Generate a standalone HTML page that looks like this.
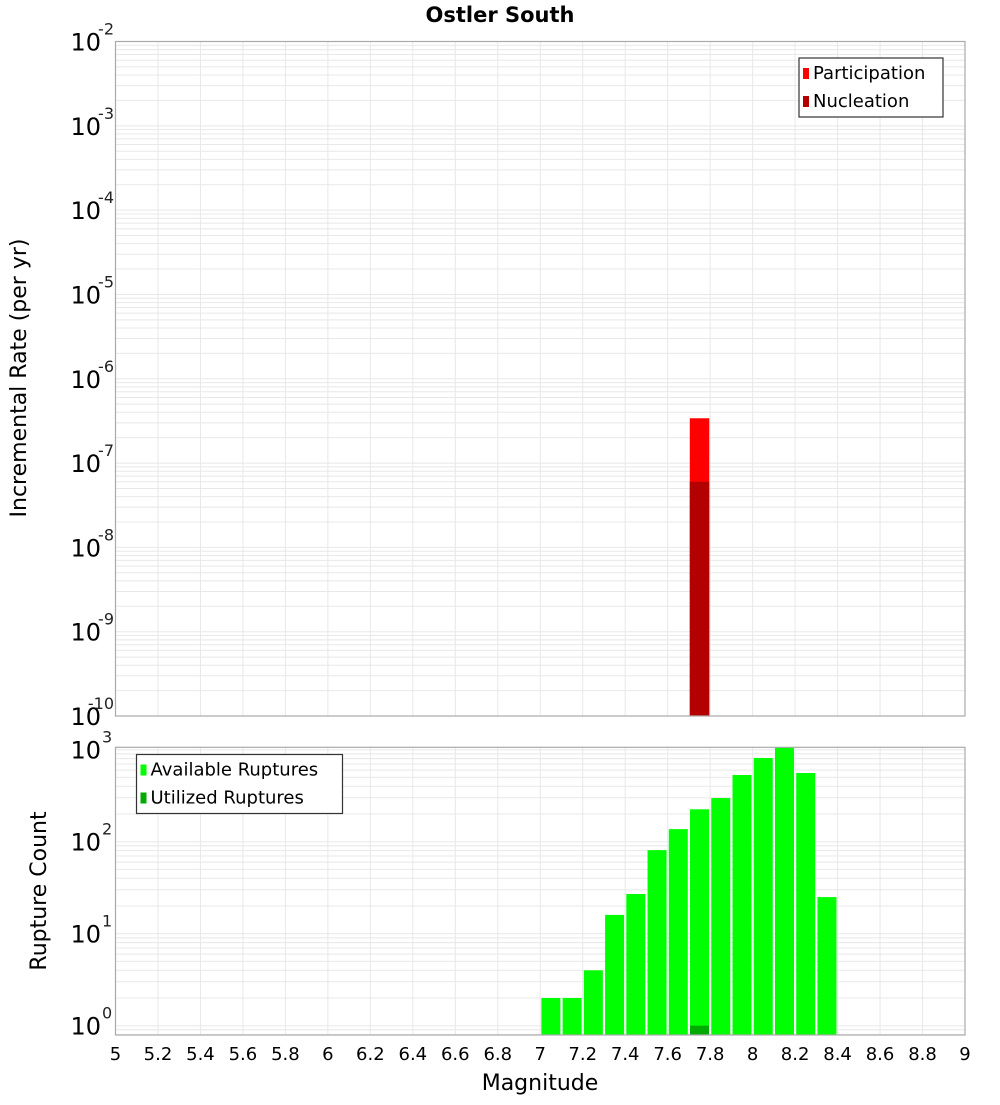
<!DOCTYPE html>
<html><head><meta charset="utf-8"><style>
body{margin:0;background:#fff;width:1000px;height:1100px;overflow:hidden}
svg{font-family:"DejaVu Sans","Liberation Sans",sans-serif}
</style></head><body>
<svg id="chart" width="1000" height="1100" xmlns="http://www.w3.org/2000/svg">
<text x="500" y="22" text-anchor="middle" font-size="21" font-weight="bold">Ostler South</text>
<text transform="translate(26,378) rotate(-90)" text-anchor="middle" font-size="22">Incremental Rate (per yr)</text>
<text transform="translate(46,891) rotate(-90)" text-anchor="middle" font-size="22">Rupture Count</text>
<text x="540" y="1090" text-anchor="middle" font-size="22">Magnitude</text>
<g id="g"></g>
</svg>
<script>
const xTicks=[5,5.2,5.4,5.6,5.8,6,6.2,6.4,6.6,6.8,7,7.2,7.4,7.6,7.8,8,8.2,8.4,8.6,8.8,9];
const rateMags=[7.75];
const participation=[3.4e-7];
const nucleation=[6.0e-8];
const countMags=[7.05,7.15,7.25,7.35,7.45,7.55,7.65,7.75,7.85,7.95,8.05,8.15,8.25,8.35];
const available=[2,2,4,16,27,81,137,225,298,531,813,1060,558,25];
const utilizedMags=[7.75];
const utilized=[1];
const topDecades=[-10,-9,-8,-7,-6,-5,-4,-3,-2];
const botDecades=[0,1,2,3];

const NS='http://www.w3.org/2000/svg';
const g=document.getElementById('g');
const L=115.5,R=965;
const x=m=>L+(m-5)/4*(R-L);
const T1=41.5,B1=716,yTop=v=>B1-(Math.log10(v)+10)/8*(B1-T1);
const T2=747.3,B2=1035,yBot=v=>1025.7-Math.log10(v)*92;
function el(t,a,p){const e=document.createElementNS(NS,t);for(const k in a)e.setAttribute(k,a[k]);(p||g).appendChild(e);return e;}

// grids
function grid(T,B,yf,lo,hi,name){
  for(let d=lo;d<hi;d++)for(let k=1;k<10;k++){const v=k*Math.pow(10,d);const yy=yf(v);if(yy<T||yy>B)continue;
    const ln=el('line',{x1:L,x2:R,y1:yy,y2:yy,stroke:'#e8e8e8','stroke-width':1});
    
    }
  xTicks.forEach(m=>{const ln=el('line',{x1:x(m),x2:x(m),y1:T,y2:B,stroke:'#e8e8e8','stroke-width':1});
    
    });
}
grid(T1,B1,yTop,-10,-1,'top');
grid(T2,B2,yBot,-1,4,'bottom');

// top bars
const bw=19.5;
rateMags.forEach((m,i)=>{
  const r=el('rect',{x:x(m)-bw/2,y:yTop(participation[i]),width:bw,height:B1-yTop(participation[i]),fill:'#ff0000'});
  
  
  const n=el('rect',{x:x(m)-bw/2,y:yTop(nucleation[i]),width:bw,height:B1-yTop(nucleation[i]),fill:'#b30000'});
  
  
});
// bottom bars
countMags.forEach((m,i)=>{
  const t=Math.max(T2,yBot(available[i]));
  const r=el('rect',{x:x(m)-9.5,y:t,width:19,height:B2-t,fill:'#00ff00'});
  
  
});
utilizedMags.forEach((m,i)=>{
  const t=yBot(utilized[i]);
  const r=el('rect',{x:x(m)-9.5,y:t,width:19,height:B2-t,fill:'#00aa00'});
  
  
});

// frames
[[T1,B1,'top-plot-frame'],[T2,B2,'bottom-plot-frame']].forEach(([T,B,n])=>{
  const r=el('rect',{x:L,y:T,width:R-L,height:B-T,fill:'none',stroke:'#aaaaaa','stroke-width':1.2});
  
  
});

// y tick labels
function ylab(yy,e,name){
  const t=el('text',{x:101,y:yy+9,'text-anchor':'end','font-size':24});t.textContent='10';
  
  
  const s=el('text',{x:e<0?114:102,y:yy-7,'text-anchor':e<0?'end':'start','font-size':16,fill:'#222'});s.textContent=String(e);
  
  
}
topDecades.forEach(d=>ylab(yTop(Math.pow(10,d)),d,'top-y-tick-label'));
botDecades.forEach(d=>ylab(yBot(Math.pow(10,d)),d,'bottom-y-tick-label'));
// x tick labels
xTicks.forEach(m=>{const t=el('text',{x:x(m),y:1060,'text-anchor':'middle','font-size':18});t.textContent=String(m);
  
  });

// legends
function legend(bx,by,w,items,name){
  const lg=el('g',{});
  
  
  el('rect',{x:bx,y:by,width:w,height:59,fill:'#fff',stroke:'#333','stroke-width':1.2},lg);
  items.forEach(([lab,c],i)=>{
    el('rect',{x:bx+4,y:by+10+i*28,width:6,height:11,fill:c},lg);
    const t=el('text',{x:bx+14,y:by+21+i*28,'font-size':18},lg);t.textContent=lab;
  });
}
legend(799,58,144,[['Participation','#ff0000'],['Nucleation','#b30000']],'rate-legend');
legend(136.5,754.5,206,[['Available Ruptures','#00ff00'],['Utilized Ruptures','#00aa00']],'count-legend');
</script>
</body></html>
